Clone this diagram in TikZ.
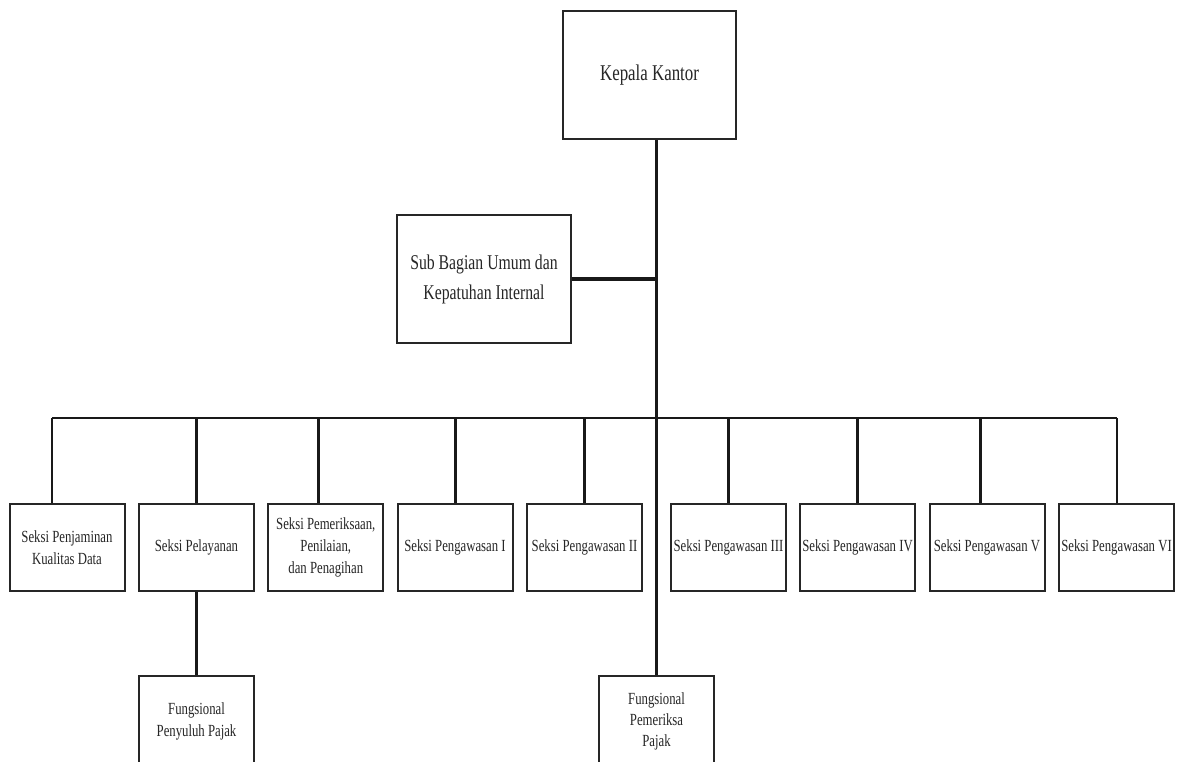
\documentclass[tikz,border=0pt]{standalone}
\usepackage{fontspec}
\setmainfont{Liberation Serif}[FakeStretch=0.75]
\begin{document}
\begin{tikzpicture}[x=1pt,y=-1pt,
  box/.style={draw=black!85, line width=2pt, rectangle, inner sep=0pt, align=center,
    minimum width=115pt, minimum height=87pt, font=\fontsize{17}{22}\selectfont, text=black!85},
  bigbox/.style={box, minimum width=173pt, minimum height=128pt},
  conn/.style={line width=3pt, draw=black!90},
  thin/.style={line width=2pt, draw=black!90}]
\useasboundingbox (0,0) rectangle (1183,761);
\fill[white] (0,0) rectangle (1183,761);
\begin{scope}
\clip (0,0) rectangle (1183,761);
% top
\node[bigbox, font=\fontsize{22.5}{28}\selectfont] (k) at (649.5,75) {Kepala Kantor};
\node[bigbox, minimum width=174pt, font=\fontsize{21}{30}\selectfont] (sb) at (484,279) {Sub Bagian Umum dan\\Kepatuhan Internal};
% sections
\node[box] (s1) at (67,547.5) {Seksi Penjaminan\\Kualitas Data};
\node[box] (s2) at (196.5,547.5) {Seksi Pelayanan};
\node[box] (s3) at (325.8,547.5) {Seksi Pemeriksaan,\\Penilaian,\\dan Penagihan};
\node[box] (s4) at (455,547.5) {Seksi Pengawasan I};
\node[box] (s5) at (584.5,547.5) {Seksi Pengawasan II};
\node[box] (s6) at (728.5,547.5) {Seksi Pengawasan III};
\node[box] (s7) at (857.5,547.5) {Seksi Pengawasan IV};
\node[box] (s8) at (987,547.5) {Seksi Pengawasan V};
\node[box] (s9) at (1116.5,547.5) {Seksi Pengawasan VI};
% functional
\node[box, minimum height=90pt] (fpp) at (196.5,721) {Fungsional\\Penyuluh Pajak};
\node[box, minimum height=90pt, font=\fontsize{17}{21}\selectfont] (fp) at (656.5,721) {Fungsional\\Pemeriksa\\Pajak};
% bus
\coordinate (bus) at (656.5,418);
\coordinate (busL) at (52,418);
\coordinate (busR) at (1116.5,418);
\draw[thin] (busL) -- (busR);
\draw[conn] (fp.north |- k.south) -- (fp.north);
\draw[conn, line width=3.5pt] (sb.east) -- (sb.east -| fp.north);
\draw[thin] ([xshift=-15pt]s1.north) -- ([xshift=-15pt]s1.north |- bus);
\draw[conn] (s2.north) -- (s2.north |- bus);
\draw[conn] ([xshift=-7.5pt]s3.north) -- ([xshift=-7.5pt]s3.north |- bus);
\draw[conn] (s4.north) -- (s4.north |- bus);
\draw[conn] (s5.north) -- (s5.north |- bus);
\draw[conn] (s6.north) -- (s6.north |- bus);
\draw[conn] (s7.north) -- (s7.north |- bus);
\draw[conn] ([xshift=-7pt]s8.north) -- ([xshift=-7pt]s8.north |- bus);
\draw[thin] (s9.north) -- (s9.north |- bus);
\draw[conn] (s2.south) -- (fpp.north);
\end{scope}
\end{tikzpicture}
\end{document}
